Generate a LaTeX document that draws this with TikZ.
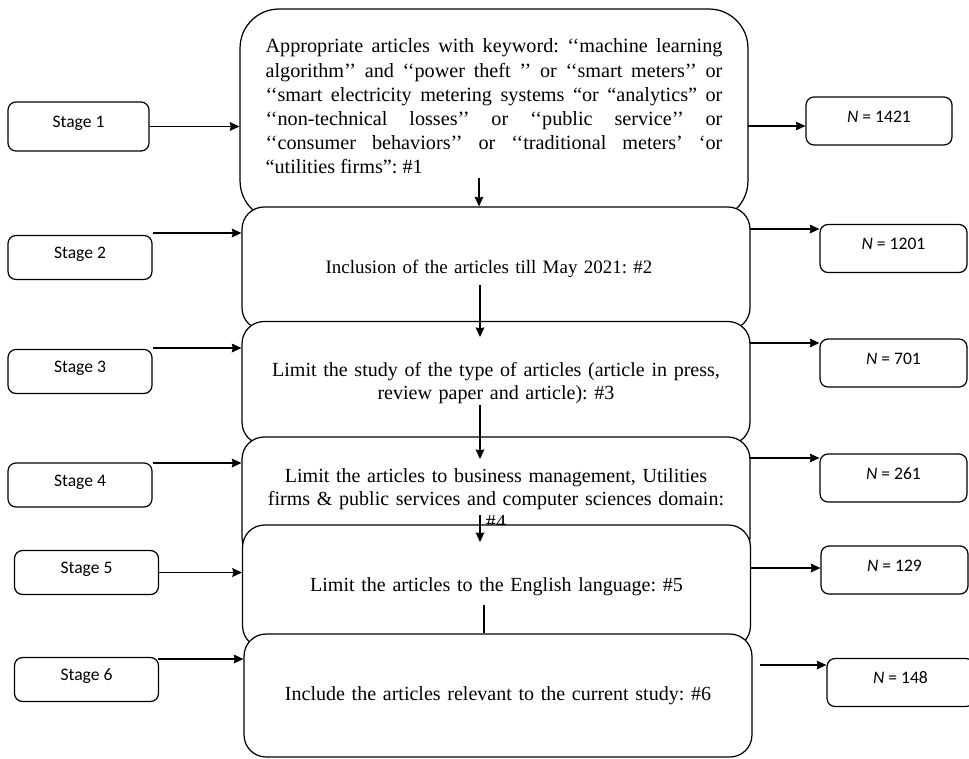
\documentclass[tikz,border=0pt]{standalone}
\usepackage{fontspec}
\setmainfont{Liberation Serif}[Ligatures=TeXOff]
\newfontfamily\calibri{Carlito}
\usetikzlibrary{arrows.meta}
\frenchspacing

\begin{document}
\begin{tikzpicture}[x=0.02cm,y=-0.02cm,
		>={Stealth[length=5.5pt,width=5pt,inset=0.6pt]},
		stepbox/.style={draw,rectangle,rounded corners=0.44cm,fill=white,line width=0.7pt,
			minimum width=10.16cm,minimum height=2.46cm,text width=9.8cm,align=center,
			font=\fontsize{11.4}{13}\selectfont},
		sidebox/.style={draw,rectangle,rounded corners=0.16cm,fill=white,line width=0.7pt,
			minimum width=2.88cm,minimum height=0.88cm,text height=6.6pt,text depth=5pt,
			font=\calibri\fontsize{10}{12}\selectfont},
		link/.style={->,line width=0.6pt}]
		\useasboundingbox (0,0) rectangle (969,758);
		
		\node[stepbox,rounded corners=0.78cm,minimum height=4.22cm,text width=260pt,align=justify,
			font=\fontsize{11.5}{13.7}\selectfont] (M1) at (494,114.5)
			{Appropriate articles with keyword: ‘‘machine learning\linebreak
			algorithm’’ and ‘‘power theft ’’ or ‘‘smart meters’’ or\linebreak
			‘‘smart electricity metering systems “or “analytics” or\linebreak
			‘‘non-technical losses’’ or ‘‘public service’’ or\linebreak
			‘‘consumer behaviors’’ or ‘‘traditional meters’ ‘or\linebreak
			“utilities firms”: \#1\vrule width 0pt depth 9.5pt};
		\node[stepbox,font=\fontsize{10.8}{13}\selectfont] (M2) at (496,268.5)
			{Inclusion of the articles till May 2021: \#2\hspace*{8pt}\null};
		\node[stepbox] (M3) at (496,383) {Limit the study of the type of articles (article in press,\\ review paper and article): \#3};
		\node[stepbox] (M4) at (496,498.5) {Limit the articles to business management, Utilities\\ firms \& public services and computer sciences domain:\\ \#4};
		\node[stepbox] (M5) at (496.5,586.5) {Limit the articles to the English language: \#5};
		\node[stepbox] (M6) at (498,695.5) {Include the articles relevant to the current study: \#6};
		
		\begin{scope}[every node/.style={sidebox}]
			\node[minimum width=2.82cm,minimum height=0.98cm] (S1) at (78.5,126.5) {Stage 1};
			\node (S2) at (80,257.5) {Stage 2};
			\node (S3) at (80,371.5) {Stage 3};
			\node (S4) at (80,485) {Stage 4};
			\node (S5) at (86.5,572.5) {Stage 5};
			\node (S6) at (86.5,679.5) {Stage 6};
		\end{scope}
		
		\begin{scope}[every node/.style={sidebox,minimum width=2.94cm,minimum height=0.96cm}]
			\node[minimum width=2.92cm] (N1) at (879,121) {\textit{N} = 1421};
			\node (N2) at (893.5,248.5) {\textit{N} = 1201};
			\node (N3) at (893.5,363) {\textit{N} = 701};
			\node (N4) at (893.5,478) {\textit{N} = 261};
			\node (N5) at (894.5,570) {\textit{N} = 129};
			\node (N6) at (900.5,682.5) {\textit{N} = 148};
		\end{scope}
		
		% down the middle
		\coordinate (d1) at (479,178);
		\coordinate (d2) at (480,285);
		\coordinate (e2) at (480,337);
		\coordinate (d3) at (480,405);
		\coordinate (e3) at (480,459);
		\coordinate (d4) at (480,515);
		\coordinate (e4) at (480,542);
		\coordinate (d5) at (484,605);
		\draw[link] (d1) -- (d1 |- M2.north);
		\draw[link] (d2) -- (e2);
		\draw[link] (d3) -- (e3);
		\draw[link] (d4) -- (e4);
		\draw[line width=0.6pt] (d5) -- (d5 |- M6.north);
		
		% stages in
		\coordinate (s2) at (153,233);
		\coordinate (s3) at (153,348);
		\coordinate (s4) at (153,463);
		\coordinate (s6) at (158,659);
		\draw[link] (S1.east) -- (S1.east -| M1.west);
		\draw[link] (s2) -- (s2 -| M2.west);
		\draw[link] (s3) -- (s3 -| M3.west);
		\draw[link] (s4) -- (s4 -| M4.west);
		\draw[link] (S5.east) -- (S5.east -| M5.west);
		\draw[link] (s6) -- (s6 -| M6.west);
		
		% counts out
		\coordinate (r1) at (748,126);
		\coordinate (r2) at (750,229);
		\coordinate (r3) at (750,343);
		\coordinate (r4) at (750,458);
		\coordinate (r5) at (750,568);
		\coordinate (r6) at (760,665);
		\draw[link] (r1) -- (r1 -| N1.west);
		\draw[link] (r2) -- (r2 -| N2.west);
		\draw[link] (r3) -- (r3 -| N3.west);
		\draw[link] (r4) -- (r4 -| N4.west);
		\draw[link] (r5) -- (r5 -| N5.west);
		\draw[link] (r6) -- (r6 -| N6.west);
	\end{tikzpicture}
\end{document}
